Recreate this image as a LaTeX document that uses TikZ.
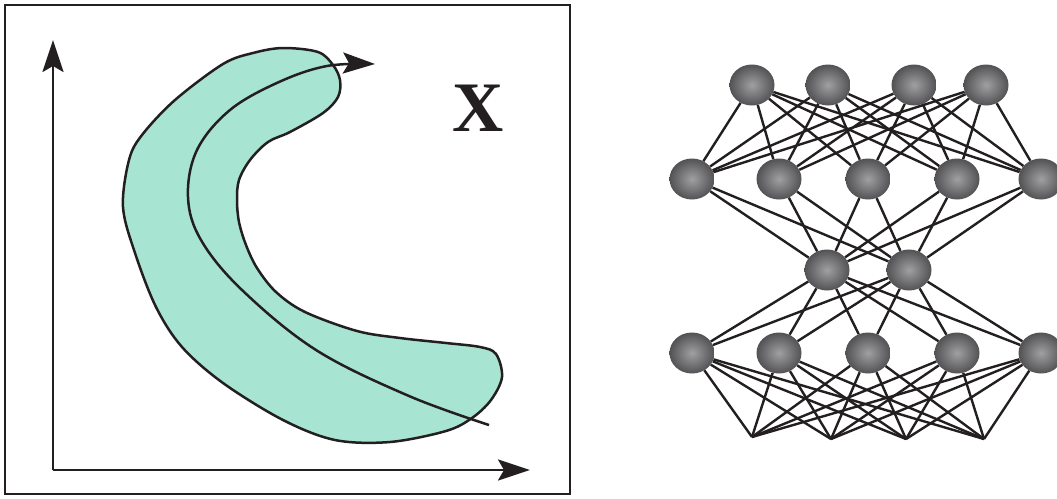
\documentclass[tikz,border=0pt]{standalone}
\usepackage{fontspec}
\setmainfont{Liberation Serif}
\usetikzlibrary{arrows.meta,shapes.geometric}
\definecolor{inkc}{RGB}{35,31,32}
\definecolor{tealfill}{RGB}{168,228,210}
\definecolor{ballin}{RGB}{160,160,162}
\definecolor{ballout}{RGB}{82,82,84}
\tikzset{
  ink/.style={draw=inkc, line width=2.5pt},
  bigarrow/.style={-{Stealth[length=32pt,width=21pt,inset=6pt]}},
  ball/.style={ellipse, minimum width=45pt, minimum height=41pt, inner sep=0pt,
    shading=radial, inner color=ballin, outer color=ballout},
  link/.style={draw=inkc, line width=2.4pt},
}
\begin{document}
\begin{tikzpicture}[x=1pt,y=-1pt]
\path[use as bounding box, clip] (0,0) rectangle (1057,498);
\fill[white] (0,0) rectangle (1057,498);
% left panel
\draw[ink] (5,5) rectangle (570,494);
\draw[ink, fill=tealfill] plot[smooth cycle, tension=0.55] coordinates {
 (283,48) (318,52) (333,65) (340,80) (338,97) (323,113) (290,132) (268,142)
 (250,160) (239,180) (237,200) (239,222) (246,245) (257,268) (276,292)
 (305,312) (357,331) (400,338) (446,343) (480,347) (496,354) (502,377)
 (491,400) (472,418) (446,431) (390,442) (335,440) (283,420) (223,383)
 (182,347) (156,307) (135,253) (123,207) (129,160) (142,135) (175,100)
 (223,64) (253,53)};
\draw[ink, bigarrow] plot[smooth, tension=0.6] coordinates {
 (489,425) (409,396) (316,350) (242,290) (201,240) (188,197) (197,150)
 (230,110) (279,82) (327,66) (375,64)};
\coordinate (o) at (53,470);
\coordinate (ytip) at (53,40);
\coordinate (xtip) at (530,470);
\draw[ink, bigarrow] (o) -- (ytip);
\draw[ink, bigarrow] (o) -- (xtip);
\node[inner sep=0pt, text=inkc] (xl) at (478,108) {\fontsize{71}{74}\selectfont\bfseries X};
% network
\node[ball] (t1) at (752,85) {};
\node[ball] (t2) at (828,85) {};
\node[ball] (t3) at (914,85) {};
\node[ball] (t4) at (986,85) {};
\node[ball] (s1) at (692,179) {};
\node[ball] (s2) at (779,179) {};
\node[ball] (s3) at (868,179) {};
\node[ball] (s4) at (957,179) {};
\node[ball] (s5) at (1041,179) {};
\node[ball] (m1) at (827,270) {};
\node[ball] (m2) at (909,270) {};
\node[ball] (b1) at (692,353) {};
\node[ball] (b2) at (779,353) {};
\node[ball] (b3) at (868,353) {};
\node[ball] (b4) at (957,353) {};
\node[ball] (b5) at (1041,353) {};
\coordinate (p1) at (752,437);
\coordinate (p2) at (831,439);
\coordinate (p3) at (906,439);
\coordinate (p4) at (984,439);
\foreach \i in {1,...,4}{\foreach \j in {1,...,5}{\draw[link] (t\i) -- (s\j);}}
\foreach \i in {1,...,5}{\foreach \j in {1,2}{\draw[link] (s\i) -- (m\j);}}
\foreach \i in {1,2}{\foreach \j in {1,...,5}{\draw[link] (m\i) -- (b\j);}}
\foreach \i in {1,...,5}{\foreach \j in {1,...,4}{\draw[link] (b\i) -- (p\j);}}
\end{tikzpicture}
\end{document}
